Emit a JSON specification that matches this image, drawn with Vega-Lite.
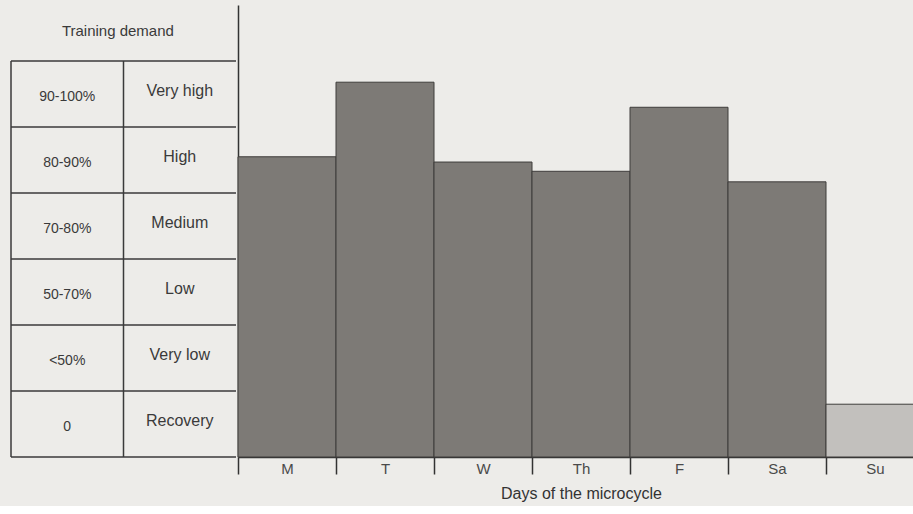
{
  "$schema": "https://vega.github.io/schema/vega-lite/v6.json",
  "background": "#edece9",
  "padding": {"left": 10, "top": 5, "right": 0, "bottom": 5},
  "spacing": 0,
  "config": {
    "view": {"stroke": null},
    "font": "Liberation Sans",
    "text": {"font": "Liberation Sans", "color": "#3a3a3a", "fontWeight": "normal"}
  },
  "datasets": {
    "levels": [
      {"level": 0, "demand": "Recovery", "pct": "0"},
      {"level": 1, "demand": "Very low", "pct": "<50%"},
      {"level": 2, "demand": "Low", "pct": "50-70%"},
      {"level": 3, "demand": "Medium", "pct": "70-80%"},
      {"level": 4, "demand": "High", "pct": "80-90%"},
      {"level": 5, "demand": "Very high", "pct": "90-100%"}
    ],
    "header": [
      {"title": "Training demand"}
    ],
    "days": [
      {"day": "M", "load": 4.55, "kind": "training"},
      {"day": "T", "load": 5.68, "kind": "training"},
      {"day": "W", "load": 4.47, "kind": "training"},
      {"day": "Th", "load": 4.33, "kind": "training"},
      {"day": "F", "load": 5.3, "kind": "training"},
      {"day": "Sa", "load": 4.17, "kind": "training"},
      {"day": "Su", "load": 0.8, "kind": "recovery"}
    ]
  },
  "hconcat": [
    {
      "width": 225,
      "height": 452,
      "data": {"name": "levels"},
      "layer": [
        {
          "mark": {"type": "rule", "color": "#3a3a3a", "strokeWidth": 1.5},
          "encoding": {
            "y": {"field": "level", "type": "quantitative", "scale": {"domain": [0, 6.85], "nice": false, "zero": false}, "axis": null},
            "x": {"datum": 0, "type": "quantitative", "scale": {"domain": [0, 2], "nice": false}, "axis": null},
            "x2": {"datum": 2}
          }
        },
        {
          "data": {"name": "header"},
          "mark": {"type": "rule", "color": "#3a3a3a", "strokeWidth": 1.5},
          "encoding": {
            "y": {"datum": 6, "type": "quantitative"},
            "x": {"datum": 0, "type": "quantitative"},
            "x2": {"datum": 2}
          }
        },
        {
          "data": {"name": "header"},
          "mark": {"type": "rule", "color": "#3a3a3a", "strokeWidth": 1.5},
          "encoding": {
            "x": {"datum": 0, "type": "quantitative"},
            "y": {"datum": 0, "type": "quantitative"},
            "y2": {"datum": 6}
          }
        },
        {
          "data": {"name": "header"},
          "mark": {"type": "rule", "color": "#3a3a3a", "strokeWidth": 1.5},
          "encoding": {
            "x": {"datum": 1, "type": "quantitative"},
            "y": {"datum": 0, "type": "quantitative"},
            "y2": {"datum": 6}
          }
        },
        {
          "mark": {"type": "text", "fontSize": 14, "fontWeight": "normal", "dy": -30, "baseline": "middle", "align": "center"},
          "encoding": {
            "x": {"datum": 0.5, "type": "quantitative"},
            "y": {"field": "level", "type": "quantitative"},
            "text": {"field": "pct"}
          }
        },
        {
          "mark": {"type": "text", "fontSize": 16, "fontWeight": "normal", "dy": -36, "baseline": "middle", "align": "center"},
          "encoding": {
            "x": {"datum": 1.5, "type": "quantitative"},
            "y": {"field": "level", "type": "quantitative"},
            "text": {"field": "demand"}
          }
        },
        {
          "data": {"name": "header"},
          "mark": {"type": "text", "fontSize": 15, "fontWeight": "normal", "baseline": "middle", "align": "center"},
          "encoding": {
            "x": {"datum": 0.95, "type": "quantitative"},
            "y": {"datum": 6.45, "type": "quantitative"},
            "text": {"field": "title"}
          }
        }
      ]
    },
    {
      "width": 686,
      "height": 452,
      "data": {"name": "days"},
      "mark": {"type": "bar", "stroke": "#3f3d3b", "strokeWidth": 1},
      "encoding": {
        "x": {
          "field": "day",
          "type": "nominal",
          "sort": null,
          "scale": {"paddingInner": 0, "paddingOuter": 0},
          "axis": {
            "title": "Days of the microcycle",
            "labelAngle": 0,
            "tickBand": "extent",
            "tickSize": 17,
            "tickWidth": 1.5,
            "tickColor": "#333333",
            "domainColor": "#333333",
            "domainWidth": 1.5,
            "labelPadding": -13,
            "labelFontSize": 15,
            "labelColor": "#4a4a4a",
            "labelFont": "Liberation Sans",
            "titleFont": "Liberation Sans",
            "titleFontSize": 16,
            "titleFontWeight": "normal",
            "titleColor": "#333333",
            "titlePadding": 9
          }
        },
        "y": {
          "field": "load",
          "type": "quantitative",
          "scale": {"domain": [0, 6.85], "nice": false},
          "axis": {"domain": true, "domainColor": "#333333", "domainWidth": 1.5, "ticks": false, "labels": false, "grid": false, "title": null}
        },
        "color": {
          "field": "kind",
          "type": "nominal",
          "scale": {"domain": ["training", "recovery"], "range": ["#7d7a76", "#c2c0bd"]},
          "legend": null
        }
      }
    }
  ]
}
